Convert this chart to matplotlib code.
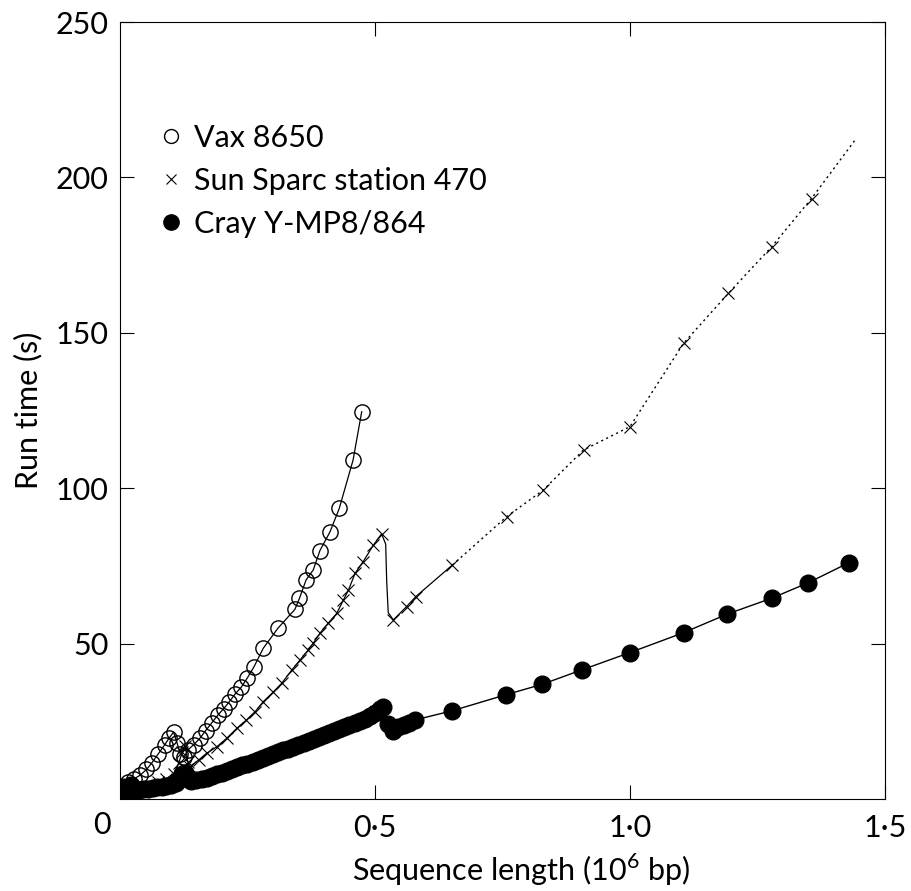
import matplotlib
matplotlib.use("Agg")
import matplotlib.pyplot as plt
from matplotlib.lines import Line2D

plt.rcParams['font.family'] = ['Lato', 'DejaVu Sans']
plt.rcParams['mathtext.fontset'] = 'custom'
plt.rcParams['mathtext.rm'] = 'Lato'

# Vax 8650 (open circles)
vax_x = [0.010, 0.016, 0.028, 0.040, 0.052, 0.062, 0.075, 0.088, 0.096, 0.105,
         0.112, 0.118, 0.126, 0.133, 0.145, 0.157, 0.168, 0.180, 0.192, 0.203,
         0.214, 0.226, 0.238, 0.250, 0.263, 0.281, 0.310, 0.343, 0.352, 0.365,
         0.379, 0.392, 0.412, 0.430, 0.457, 0.474]
vax_y = [3.0, 5.6, 6.5, 7.7, 9.5, 11.5, 14.5, 17.5, 19.5, 21.5,
         18.0, 14.5, 13.5, 15.8, 17.5, 19.6, 22.0, 24.5, 27.0, 29.0,
         31.2, 33.8, 36.0, 39.0, 42.6, 48.5, 55.0, 61.0, 64.6, 70.5,
         73.7, 79.9, 86.0, 93.5, 109.0, 124.6]

# Sun Sparc station 470 (crosses); drop vertices after the peak carry no marker
sun_x = [0.015, 0.030, 0.045, 0.060, 0.075, 0.090, 0.105, 0.115, 0.122, 0.128,
         0.133, 0.137, 0.154, 0.170, 0.190, 0.209, 0.229, 0.248, 0.265, 0.281,
         0.301, 0.317, 0.337, 0.353, 0.369, 0.379, 0.392, 0.408, 0.425, 0.438,
         0.448, 0.461, 0.477, 0.497, 0.513, 0.521, 0.523, 0.526, 0.536, 0.562,
         0.580, 0.652, 0.758, 0.830, 0.909, 1.000, 1.105, 1.193, 1.278, 1.356,
         1.444]
sun_y = [1.5, 2.3, 3.2, 4.2, 5.3, 6.5, 8.0, 11.5, 15.0, 17.0,
         12.0, 10.4, 12.5, 14.7, 16.8, 19.5, 22.7, 25.4, 28.1, 31.3,
         34.5, 37.2, 41.5, 44.7, 47.9, 50.1, 53.3, 56.5, 59.7, 64.0,
         67.2, 72.6, 76.4, 81.7, 85.3, 82.0, 70.0, 60.0, 57.6, 61.9,
         65.1, 75.3, 90.8, 99.4, 112.3, 119.8, 146.6, 162.7, 177.7, 193.2,
         212.6]
sun_unmarked = [35, 36, 37, 50]

# Cray Y-MP8/864 (filled circles)
cray_x = [0.003, 0.006, 0.010, 0.014, 0.018, 0.022, 0.026, 0.030, 0.038, 0.046,
          0.055, 0.064, 0.073, 0.082, 0.091, 0.100, 0.110, 0.116, 0.122, 0.128,
          0.133, 0.140, 0.150, 0.160, 0.170, 0.180, 0.190, 0.200, 0.210, 0.220,
          0.230, 0.240, 0.250, 0.260, 0.270, 0.280, 0.290, 0.300, 0.310, 0.320,
          0.330, 0.340, 0.350, 0.360, 0.370, 0.380, 0.390, 0.400, 0.410, 0.420,
          0.430, 0.440, 0.450, 0.460, 0.470, 0.480, 0.490, 0.500, 0.510, 0.515,
          0.525, 0.536, 0.546, 0.556, 0.567, 0.578, 0.652, 0.756, 0.828, 0.905,
          1.000, 1.105, 1.191, 1.278, 1.350, 1.429]
cray_y = [2.0, 4.0, 1.5, 3.5, 2.2, 4.5, 2.6, 3.0, 3.0, 3.3,
          3.2, 3.6, 3.8, 4.0, 4.3, 4.5, 5.2, 6.5, 8.0, 8.5,
          6.5, 5.8, 6.0, 6.4, 6.9, 7.4, 7.9, 8.4, 9.0, 9.6,
          10.2, 10.8, 11.4, 12.0, 12.6, 13.2, 13.8, 14.4, 15.0, 15.6,
          16.2, 16.8, 17.4, 18.0, 18.6, 19.2, 19.8, 20.5, 21.1, 21.8,
          22.5, 23.2, 23.8, 24.5, 25.1, 25.8, 26.6, 27.6, 29.0, 29.5,
          24.0, 22.0, 23.0, 23.8, 24.5, 25.4, 28.4, 33.5, 36.9, 41.5,
          47.1, 53.5, 59.5, 64.6, 69.6, 76.0]

labels = ["Vax 8650", "Sun Sparc station 470", "Cray Y-MP8/864"]

fig = plt.figure(figsize=(9.11, 8.91), dpi=100)
ax = fig.add_axes([0.1317, 0.1033, 0.8397, 0.872])

# Sun line: solid near the start, dotted (faint) beyond the dip
split = 41
ax.plot(sun_x[:split + 1], sun_y[:split + 1], color='black', lw=0.9)
ax.plot(sun_x[split:], sun_y[split:], color='black', lw=1.0, ls=(0, (1.5, 2.5)))
marked = [i for i in range(len(sun_x)) if i not in sun_unmarked]
ax.plot([sun_x[i] for i in marked], [sun_y[i] for i in marked], ls='none',
        marker='x', ms=8, mew=0.8, color='black')

ax.plot(vax_x, vax_y, color='black', lw=0.9, marker='o', ms=11,
        mfc='none', mec='black', mew=1.0)
ax.plot(cray_x, cray_y, color='black', lw=1.0, marker='o', ms=12,
        mfc='black', mec='black')

ax.set_xlim(0, 1.5)
ax.set_ylim(0, 250)
ax.set_xticks([0.5, 1.0, 1.5])
ax.set_xticklabels(["0·5", "1·0", "1·5"])
ax.set_yticks([50, 100, 150, 200, 250])
ax.tick_params(direction='in', length=10, width=0.8, labelsize=22,
               top=True, right=True, pad=8)
ax.tick_params(axis='x', pad=11)
ax.annotate("0", xy=(0, 0), xycoords=('data', 'axes fraction'),
            xytext=(-18, -12), textcoords='offset pixels',
            ha='center', va='top', fontsize=22)
for s in ax.spines.values():
    s.set_linewidth(0.8)

ax.set_xlabel(r"Sequence length (10$^{6}$ bp)", fontsize=22)
ax.xaxis.set_label_coords(0.524, -0.068)
ax.set_ylabel("Run time (s)", fontsize=22)
ax.yaxis.set_label_coords(-0.102, 0.5)

handles = [
    Line2D([], [], ls='none', marker='o', ms=10, mfc='none', mec='black', mew=1.0),
    Line2D([], [], ls='none', marker='x', ms=7, mew=0.8, color='black'),
    Line2D([], [], ls='none', marker='o', ms=11, mfc='black', mec='black'),
]
ax.legend(handles, labels, loc='upper left', bbox_to_anchor=(0.035, 0.885),
          frameon=False, fontsize=22, handlelength=0.8, handletextpad=0.35,
          labelspacing=0.5, borderaxespad=0)

fig.savefig("out.png", dpi=100)
